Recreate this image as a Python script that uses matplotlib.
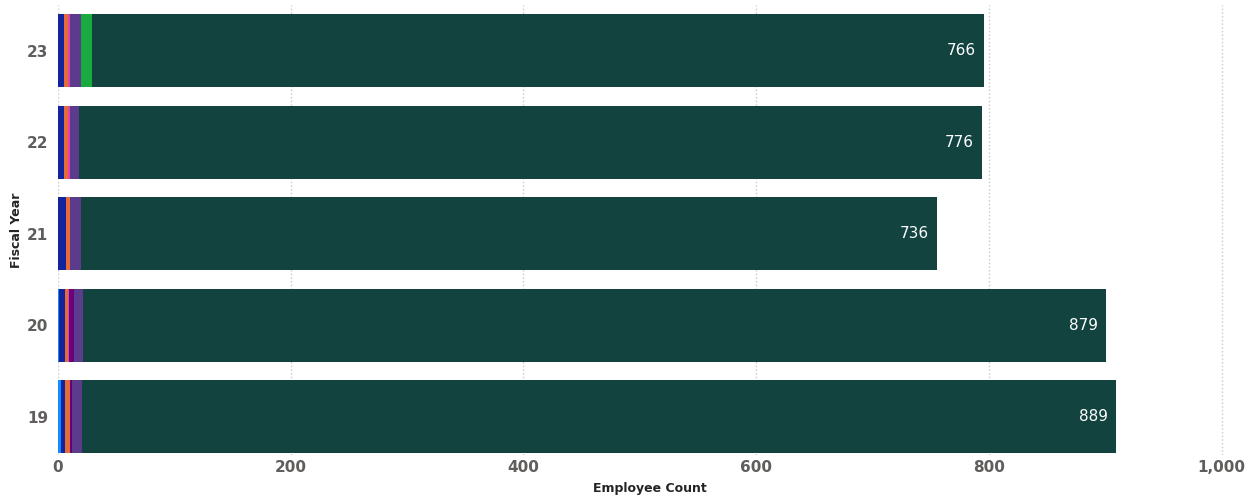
import matplotlib
matplotlib.use("Agg")
from matplotlib import pyplot as plt
import numpy as np

years = ['19', '20', '21', '22', '23']
# stacked segments per year (bottom -> top order follows years list)
light_blue = [2.5, 1, 0, 0, 0]
blue = [3.5, 5, 7, 5, 5]
orange = [4, 2.5, 3, 3.5, 3.5]
pink = [0, 1, 0.5, 1.5, 1.5]
dark_purple = [2, 4, 0, 0, 0]
purple = [8.5, 8, 9, 8, 10]
green = [0, 0, 0, 0, 9.5]
main = [889, 879, 736, 776, 766]

series = [light_blue, blue, orange, pink, dark_purple, purple, green, main]
colors = ['#118DFF', '#12239E', '#E66C37', '#E044A7', '#6B007B', '#5C3A8C', '#1AAB40', '#12433F']

fig = plt.figure(figsize=(12.59, 5), dpi=100)
ax = fig.add_axes([0.046, 0.09, 0.94, 0.90])

y = np.arange(len(years))
left = np.zeros(len(years))
for vals, c in zip(series, colors):
    vals = np.array(vals, dtype=float)
    ax.barh(y, vals, left=left, height=0.8, color=c, edgecolor='none')
    left += vals

# labels on the main segment
for yi, l, v in zip(y, left, main):
    ax.text(l - 7, yi, str(v), ha='right', va='center', color='white', fontsize=11)

ax.set_xlim(0, 1017)
ax.set_ylim(-0.42, 4.5)
ax.set_xticks([0, 200, 400, 600, 800, 1000])
ax.set_xticklabels(['0', '200', '400', '600', '800', '1,000'])
ax.set_yticks(y)
ax.set_yticklabels(years)
ax.tick_params(axis='both', length=0, labelsize=11, labelcolor='#605E5C')
ax.tick_params(axis='y', pad=7)
for lab in ax.get_xticklabels() + ax.get_yticklabels():
    lab.set_fontweight('bold')

ax.grid(axis='x', linestyle=':', color='#C8C8C8', linewidth=1)
ax.set_axisbelow(True)
for s in ax.spines.values():
    s.set_visible(False)

ax.set_xlabel('Employee Count', fontsize=9, fontweight='bold', color='#252423', labelpad=5)
ax.set_ylabel('Fiscal Year', fontsize=9, fontweight='bold', color='#252423', labelpad=3)

fig.savefig('out.png', dpi=100)
